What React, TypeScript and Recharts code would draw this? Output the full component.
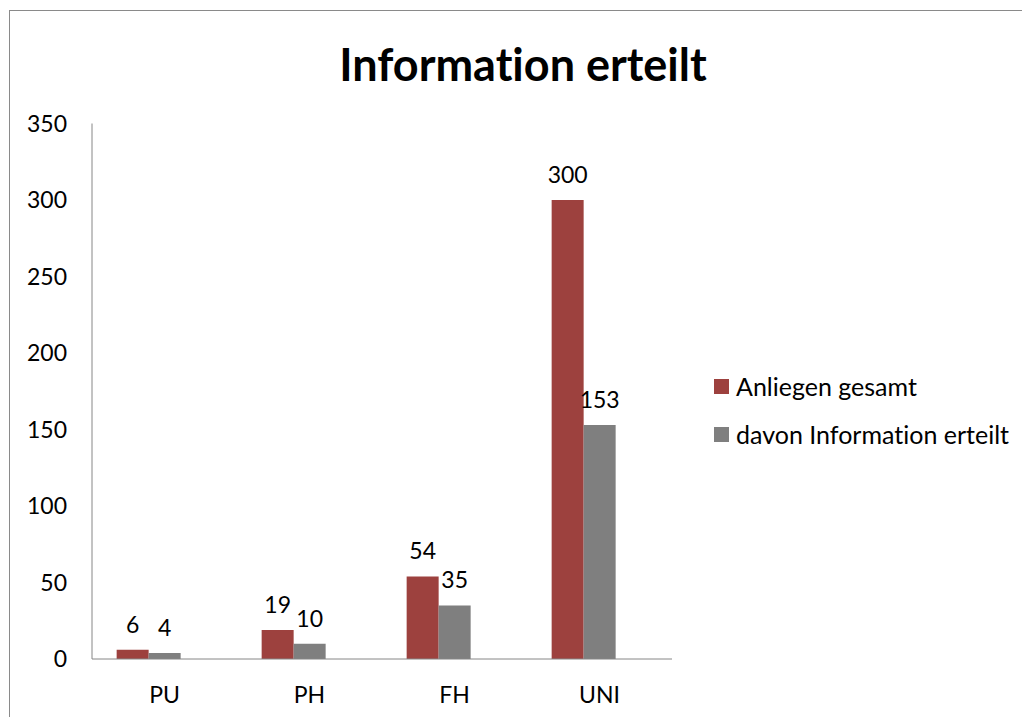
import { BarChart, Bar, XAxis, YAxis, Legend, LabelList } from "recharts"

const categories = ["PU", "PH", "FH", "UNI"]
const anliegenGesamt = [6, 19, 54, 300]
const informationErteilt = [4, 10, 35, 153]
const yTicks = [0, 50, 100, 150, 200, 250, 300, 350]

const seriesNames = ["Anliegen gesamt", "davon Information erteilt"]
const RED = "#9d413e"
const GRAY = "#7f7f7f"
const FONT = "Lato, sans-serif"

const data = categories.map((name, i) => ({
  name,
  gesamt: anliegenGesamt[i],
  erteilt: informationErteilt[i],
}))

function LegendBox() {
  const items = [
    { label: seriesNames[0], color: RED },
    { label: seriesNames[1], color: GRAY },
  ]
  return (
    <div style={{ fontFamily: FONT, fontSize: 25, color: "#000", fontVariantLigatures: "none" }}>
      {items.map((it) => (
        <div key={it.label} style={{ height: 48, display: "flex", alignItems: "center", whiteSpace: "nowrap" }}>
          <span style={{ width: 15, height: 15, background: it.color, marginRight: 7, display: "inline-block" }} />
          <span>{it.label}</span>
        </div>
      ))}
    </div>
  )
}

export default function App() {
  return (
    <div style={{ position: "fixed", left: 0, top: 0, width: 1022, height: 717, overflow: "hidden", background: "#fff" }}>
      <div
        style={{
          position: "absolute",
          left: 9,
          top: 10,
          width: 1100,
          height: 800,
          border: "1px solid #8a8a8a",
        }}
      />
      <div
        style={{
          position: "absolute",
          left: 523,
          top: 37,
          transform: "translateX(-50%)",
          fontFamily: FONT,
          fontWeight: 700,
          fontSize: 45,
          whiteSpace: "nowrap",
          color: "#000",
          fontVariantLigatures: "none",
        }}
      >
        Information erteilt
      </div>
      <div style={{ position: "absolute", left: 0, top: 0 }}>
        <BarChart
          width={1022}
          height={717}
          data={data}
          margin={{ top: 123.5, right: 350, bottom: 28, left: 32 }}
          barCategoryGap="17%"
          barGap={0}
        >
          <XAxis
            dataKey="name"
            axisLine={{ stroke: "#868686" }}
            tickLine={false}
            tickSize={0}
            tickMargin={28}
            height={30}
            tick={{ fill: "#000", fontSize: 23, fontFamily: FONT }}
          />
          <YAxis
            domain={[0, 350]}
            ticks={yTicks}
            width={60}
            axisLine={{ stroke: "#868686" }}
            tickLine={false}
            tickSize={0}
            tickMargin={25}
            tick={{ fill: "#000", fontSize: 23, fontFamily: FONT }}
          />
          <Legend
            layout="horizontal"
            verticalAlign="middle"
            align="center"
            wrapperStyle={{ left: 714, top: 362, width: 300 }}
            content={() => <LegendBox />}
          />
          <Bar dataKey="gesamt" name={seriesNames[0]} fill={RED} isAnimationActive={false}>
            <LabelList dataKey="gesamt" position="top" offset={17} fill="#000" fontSize={23} fontFamily={FONT} />
          </Bar>
          <Bar dataKey="erteilt" name={seriesNames[1]} fill={GRAY} isAnimationActive={false}>
            <LabelList dataKey="erteilt" position="top" offset={17} fill="#000" fontSize={23} fontFamily={FONT} />
          </Bar>
          {/* empty third series slot, as in the original Excel chart */}
          <Bar dataKey="leer" legendType="none" fill="none" isAnimationActive={false} />
        </BarChart>
      </div>
    </div>
  )
}
